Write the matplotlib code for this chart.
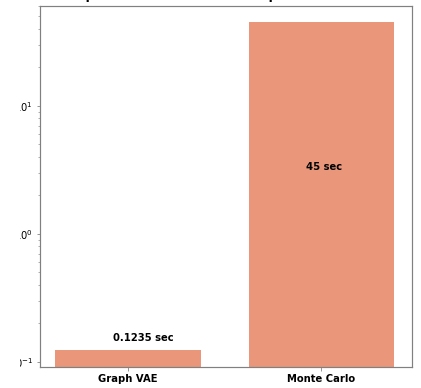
import matplotlib
matplotlib.use("Agg")
import matplotlib.pyplot as plt
from matplotlib.patches import Rectangle

methods = ["Graph VAE", "Monte Carlo"]
times = [0.1235, 45]
labels = ["0.1235 sec", "45 sec"]
label_y = [0.152, 3.3]

bar_color = "#E9967A"
spine_color = "#808080"

fig = plt.figure(figsize=(421 / 72, 388 / 72), dpi=72)
ax = fig.add_axes([40 / 421, 21 / 388, 372 / 421, 361 / 388])

x = list(range(len(methods)))
ax.bar(x, times, width=0.75, color=bar_color)
ax.set_yscale("log")
ax.set_ylim(0.0909, 60.4)
ax.set_xlim(-0.455, 1.468)

for i, (txt, y) in enumerate(zip(labels, label_y)):
    ax.text(i - 0.078, y, txt, ha="left", va="center",
            fontsize=10, fontweight="bold", color="black")

ax.set_xticks(x)
ax.set_xticklabels(methods, fontsize=10, fontweight="bold")
ax.tick_params(axis="y", labelsize=10)
ax.tick_params(colors=spine_color, labelcolor="black")
ax.tick_params(axis="y", which="minor", colors=spine_color)
for s in ax.spines.values():
    s.set_color(spine_color)
    s.set_linewidth(1.2)

ax.set_ylabel("Time (sec)", fontsize=10, labelpad=22, color="#f0f0f0")
ax.set_title("Computation Time with the Graph VAE vs Monte Carlo",
             fontsize=12, fontweight="bold", pad=6.5, x=0.535)

# the reference is cropped: left part of the y tick labels is blank
fig.patches.append(Rectangle((4 / 421, 0), 16.5 / 421, 1, transform=fig.transFigure,
                             facecolor="white", edgecolor="none", zorder=10))

fig.savefig("out.png", dpi=72)
